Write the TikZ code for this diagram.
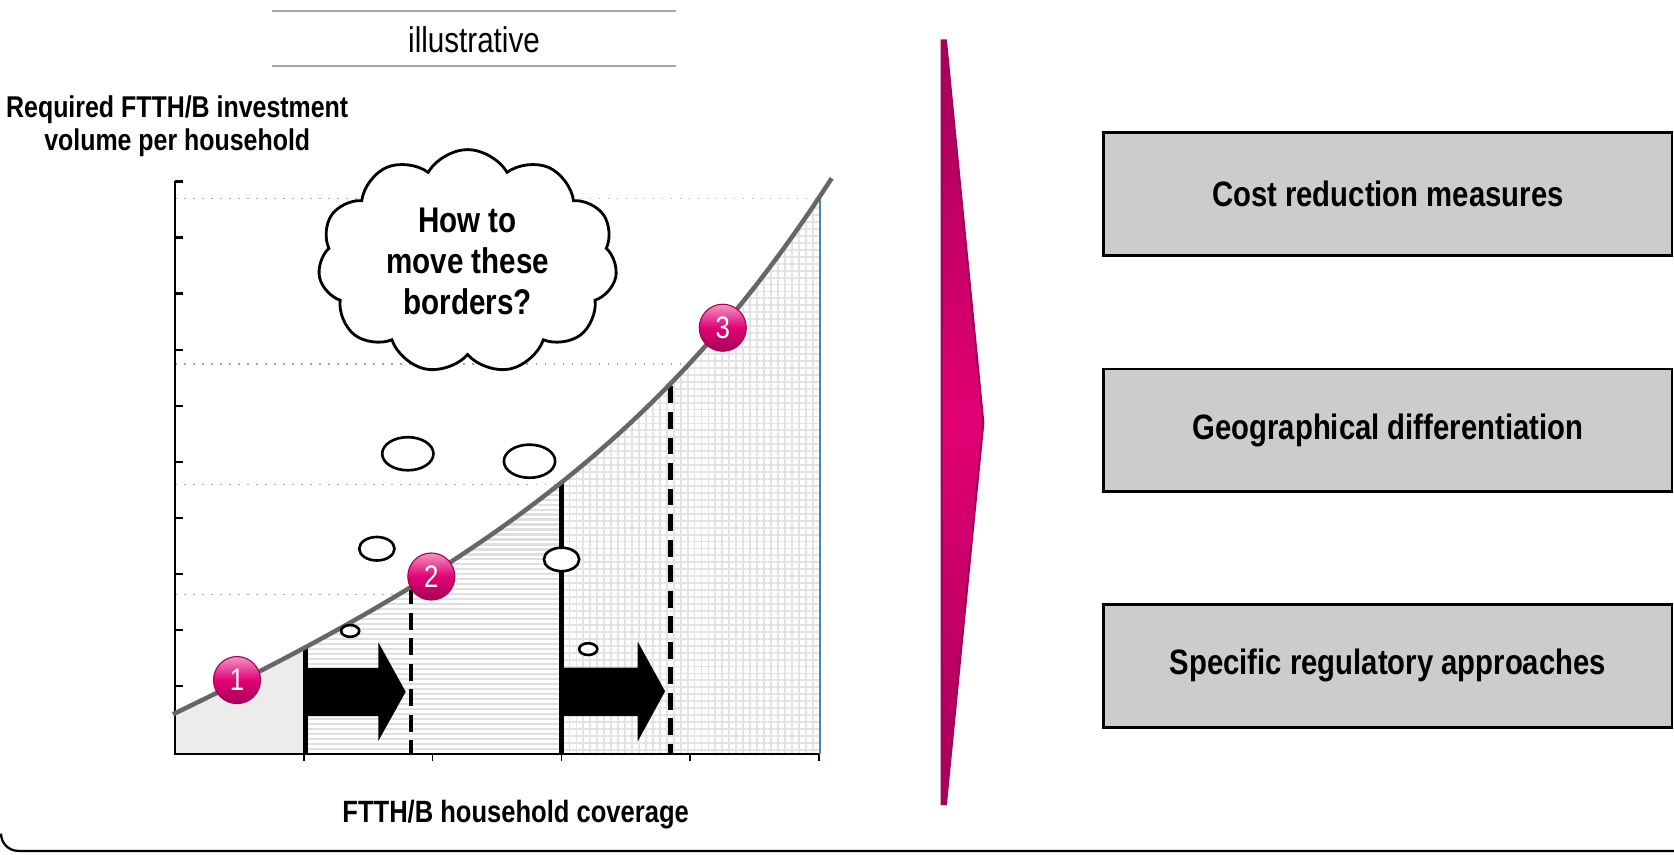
\documentclass[tikz,border=0pt]{standalone}
\usepackage{fontspec}
\setmainfont{Liberation Sans}[FakeStretch=0.83]
\usetikzlibrary{shapes.geometric, shapes.symbols, patterns.meta, positioning, calc}
\definecolor{telemagenta}{RGB}{226, 0, 116}
\definecolor{teledark}{RGB}{166, 0, 88}
\definecolor{telelight}{RGB}{242, 150, 196}
\definecolor{levergray}{RGB}{204, 204, 204}
\definecolor{curvegray}{RGB}{102, 102, 102}
\definecolor{edgeblue}{RGB}{79, 129, 189}

\begin{document}
\begin{tikzpicture}[x=0.01cm, y=-0.01cm,
  lever/.style={draw=black, line width=0.7pt, fill=levergray, minimum width=5.32cm, minimum height=1.15cm,
    font=\bfseries\fontsize{9.4}{11}\selectfont},
  badge/.style={circle, minimum size=0.44cm, inner sep=0pt, draw=teledark, line width=0.3pt,
    top color=telelight, bottom color=teledark, middle color=telemagenta, text=white,
    font=\fontsize{8.3}{9}\selectfont},
  bubble/.style={ellipse, draw=black, line width=0.7pt, fill=white, inner sep=0pt},
  border/.style={line width=1.25pt},
  moved/.style={border, dash pattern=on 4.5pt off 2.3pt},
  guide/.style={gray!70, dotted, line width=0.4pt},
  rule/.style={gray!70, line width=0.6pt}]

\useasboundingbox (0,0) rectangle (1568,800);

% frame
\draw[line width=0.6pt, rounded corners=0.16cm] (1,781) -- (1,797) -- (1568,797);

% header
\draw[rule] (255,10) -- (633,10);
\draw[rule] (255,62) -- (633,62);
\node[font=\fontsize{9.5}{11}\selectfont] (illu) at (444,37) {illustrative};

% axis titles
\node[align=center, font=\bfseries\fontsize{8}{8.8}\selectfont] (ytitle) at (166,118)
  {Required FTTH/B investment\\volume per household};
\node[font=\bfseries\fontsize{8.2}{10}\selectfont] (xtitle) at (483,763) {FTTH/B household coverage};

% areas under the curve
\begin{scope}
  \clip (162,669) .. controls (462,525) and (629,399.5) .. (779,167) -- (779,706) -- (162,706) -- cycle;
  \fill[gray!15] (164,706) rectangle (286,560);
  \fill[pattern={Lines[angle=0,distance=1.33pt,line width=0.55pt]}, pattern color=gray!25]
    (286,706) rectangle (526,400);
  \fill[pattern={Hatch[angle=0,distance=1.85pt,line width=0.5pt]}, pattern color=gray!22]
    (526,706) rectangle (768,150);
\end{scope}

% guides
\draw[guide] (164,186) -- (768,186);
\draw[guide] (164,341) -- (638,341);
\draw[guide] (164,454) -- (521,454);
\draw[guide] (164,557) -- (376,557);

% axes
\draw[line width=0.6pt] (164,170) -- (164,706) -- (768,706);
\foreach \k in {0,...,9}
  \draw[line width=0.6pt] (164,{170+52.5*\k}) -- ++(7,0);
\foreach \k in {1,...,5}
  \draw[line width=0.4pt] ({164+120.6*\k},706) -- ++(0,7);

% borders
\draw[edgeblue, line width=0.5pt] (768,184) -- (768,706);
\draw[border] (286,607) -- (286,706);
\draw[border] (526,451) -- (526,706);
\draw[moved] (385,550) -- (385,706);
\draw[moved] (628,362) -- (628,706);

% cost curve
\draw[curvegray, line width=1.2pt] (162,669) .. controls (462,525) and (629,399.5) .. (779,167);

% shift arrows
\fill (287,625.7) -- (354.4,625.7) -- (354.4,601.6) -- (380,648) -- (354.4,694) -- (354.4,670.7) -- (287,670.7) -- cycle;
\fill (526,625.4) -- (597.3,625.4) -- (597.3,601) -- (623,647.5) -- (597.3,694.5) -- (597.3,670.7) -- (526,670.7) -- cycle;

% thought bubbles
\node[bubble, minimum width=0.17cm, minimum height=0.11cm] (b1) at (328,591) {};
\node[bubble, minimum width=0.33cm, minimum height=0.22cm] (b2) at (353,514) {};
\node[bubble, minimum width=0.48cm, minimum height=0.31cm] (b3) at (382,425) {};
\node[bubble, minimum width=0.48cm, minimum height=0.31cm] (b4) at (496,432) {};
\node[bubble, minimum width=0.33cm, minimum height=0.22cm] (b5) at (526,524) {};
\node[bubble, minimum width=0.17cm, minimum height=0.11cm] (b6) at (551,608) {};

\node[cloud, cloud puffs=11, cloud puff arc=120, aspect=1.45, draw=black, line width=0.75pt, fill=white,
  minimum width=2.8cm, minimum height=1.8cm, align=center,
  font=\bfseries\fontsize{9.5}{11}\selectfont] (question) at (438,245)
  {How to\\move these\\borders?};

% markers
\node[badge] (m1) at (222,637) {1};
\node[badge] (m2) at (404,540) {2};
\node[badge] (m3) at (677,307) {3};

% chevron
\shadedraw[draw=teledark, line width=0.6pt, top color=teledark, bottom color=teledark, middle color=telemagenta]
  (882,38) -- (886,38) -- (921,396) -- (886,753) -- (882,753) -- cycle;

% levers
\node[lever] (cost) at (1300,181.5) {Cost reduction measures};
\node[lever, below=1.04cm of cost] (geo) {Geographical differentiation};
\node[lever, below=1.03cm of geo] (regul) {Specific regulatory approaches};
\end{tikzpicture}
\end{document}
